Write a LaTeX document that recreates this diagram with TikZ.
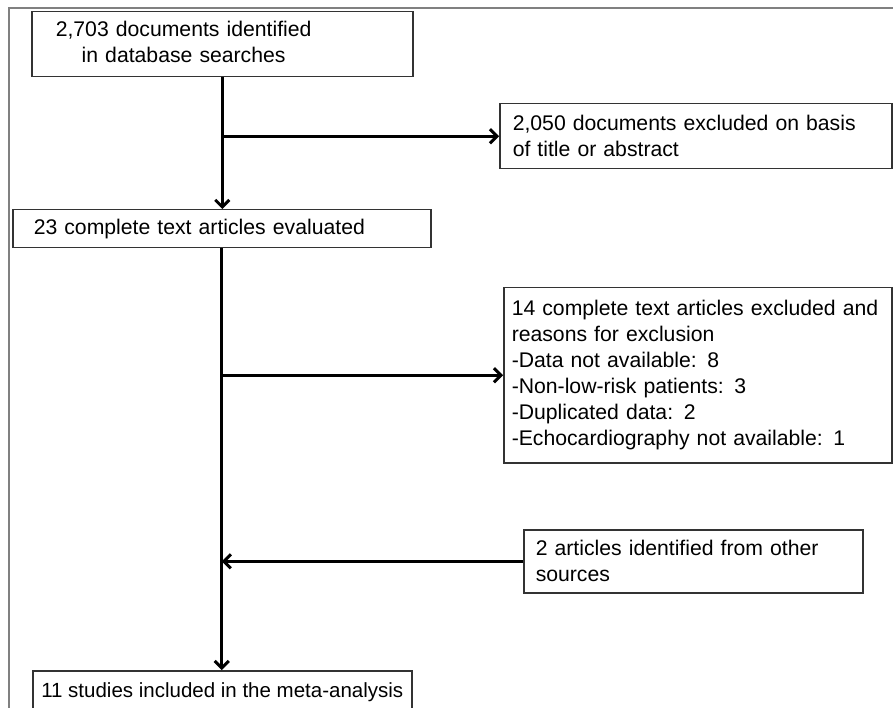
\documentclass[tikz,border=0pt]{standalone}
\usepackage{fontspec}
\setmainfont{Liberation Sans}
\usetikzlibrary{arrows.meta}

\tikzset{
    box/.style={draw=black!80, line width=1.5pt, anchor=north west,
        align=left, inner ysep=0pt,
        font=\fontsize{21.2}{26}\selectfont},
    flow/.style={line width=3pt, -{Straight Barb[length=7pt,width=14pt]}},
    frame/.style={draw=black!50, line width=2pt}
}

\begin{document}
\begin{tikzpicture}[x=1pt, y=-1pt]

\useasboundingbox (0,0) rectangle (893,708);

% Outer frame
\draw[frame] (8.5,708) -- (8.5,8) -- (893,8);

% Boxes
\node[box, inner xsep=0pt, text width=381pt, minimum height=65pt] (search) at (31,11)
    {\hspace*{24pt}\begin{tabular}{@{}c@{}}2,703 documents identified\\in database searches\end{tabular}};
\node[box, inner xsep=13pt, text width=366pt, minimum height=65pt] (titleout) at (499,103)
    {2,050 documents excluded on basis\\of title or abstract};
\node[box, inner xsep=21pt, text width=376pt, minimum height=38pt] (fulltext) at (12,209)
    {23 complete text articles evaluated};
\node[box, inner xsep=8pt, text width=372pt, minimum height=175pt] (reasons) at (503,287)
    {14 complete text articles excluded and\\reasons for exclusion\\-Data not available: 8\\-Non-low-risk patients: 3\\-Duplicated data: 2\\-Echocardiography not available: 1};
\node[box, inner xsep=12pt, text width=315pt, minimum height=63pt] (other) at (523,529)
    {2 articles identified from other\\sources};
\node[box, inner xsep=6pt, minimum width=379pt, minimum height=42pt,
    font=\fontsize{20.5}{26}\selectfont] (included) at (32,670)
    {11 studies included in the meta-analysis};

% Arrows
\draw[flow] (search.south) -- (search.south |- fulltext.north);
\draw[flow] (search.south |- titleout.west) -- (titleout.west);
\draw[flow] (fulltext.south) -- (fulltext.south |- included.north);
\draw[flow] (fulltext.south |- reasons.west) -- (reasons.west);
\draw[flow] (other.west) -- (other.west -| fulltext.south);

\end{tikzpicture}
\end{document}
